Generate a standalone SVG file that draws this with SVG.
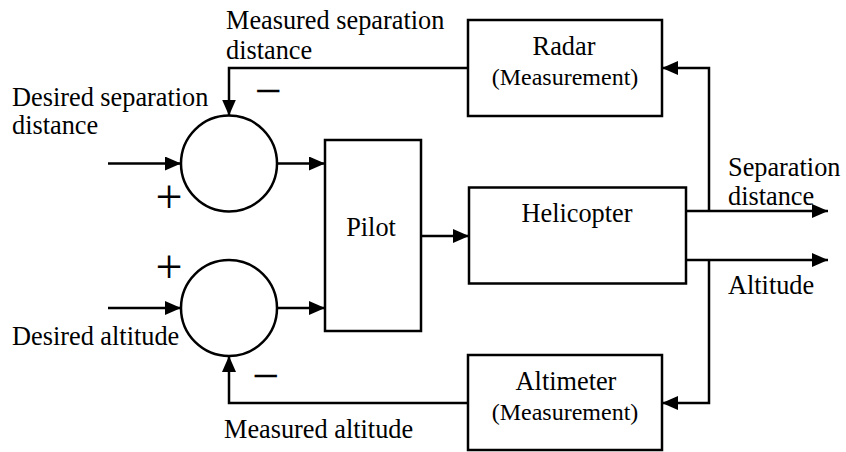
<svg xmlns="http://www.w3.org/2000/svg" width="846" height="452" viewBox="0 0 846 452" font-family="'Liberation Serif', 'Times New Roman', serif">
  <style>
    .box { fill: #ffffff; stroke: #000000; stroke-width: 2.5; }
    .sum { fill: #ffffff; stroke: #000000; stroke-width: 2.5; }
    .wire { fill: none; stroke: #000000; stroke-width: 2.5; }
    .arrow { marker-end: url(#head); }
    text { font-family: "Liberation Serif", "Times New Roman", serif; fill: #000000; }
    .lbl { font-size: 26.3px; }
    .sub { font-size: 24px; }
    .sign { font-size: 48px; text-anchor: middle; }
    .mid { text-anchor: middle; }
  </style>
  <defs>
    <marker id="head" markerUnits="userSpaceOnUse" markerWidth="16" markerHeight="14" refX="16" refY="7" orient="auto">
      <path d="M0,0 L16,7 L0,14 Z" fill="#000000"/>
    </marker>
  </defs>

  <!-- signal lines -->
  <g id="connectors">
    <path class="wire arrow" d="M108,163.5 H181"/>
    <path class="wire arrow" d="M108,308 H181"/>
    <path class="wire arrow" d="M277,163.5 H325"/>
    <path class="wire arrow" d="M277,308 H325"/>
    <path class="wire arrow" d="M421,236 H469"/>
    <path class="wire arrow" d="M686,211 H828"/>
    <path class="wire arrow" d="M686,260 H828"/>
    <path class="wire arrow" d="M709,211 V68 H662"/>
    <path class="wire arrow" d="M709,260 V403 H662"/>
    <path class="wire arrow" d="M468,68 H229 V115.5"/>
    <path class="wire arrow" d="M468,403 H229 V356"/>
  </g>

  <!-- summing junction, separation loop -->
  <g id="sum-separation">
    <circle class="sum" cx="229" cy="163.5" r="48"/>
    <text class="sign" x="169" y="212.5">+</text>
    <text class="sign" x="268" y="107">−</text>
  </g>

  <!-- summing junction, altitude loop -->
  <g id="sum-altitude">
    <circle class="sum" cx="229" cy="308" r="48"/>
    <text class="sign" x="169" y="283">+</text>
    <text class="sign" x="265.5" y="392">−</text>
  </g>

  <g id="pilot">
    <rect class="box" x="325" y="140" width="96" height="191"/>
    <text class="lbl mid" x="371" y="236">Pilot</text>
  </g>

  <g id="helicopter">
    <rect class="box" x="469" y="187.5" width="217" height="96"/>
    <text class="lbl mid" x="577" y="222">Helicopter</text>
  </g>

  <g id="radar">
    <rect class="box" x="468" y="20" width="194" height="96"/>
    <text class="lbl mid" x="564" y="55">Radar</text>
    <text class="sub mid" x="565" y="85">(Measurement)</text>
  </g>

  <g id="altimeter">
    <rect class="box" x="468" y="355" width="194" height="95"/>
    <text class="lbl mid" x="566" y="390">Altimeter</text>
    <text class="sub mid" x="565" y="420">(Measurement)</text>
  </g>

  <!-- signal labels -->
  <g id="labels">
    <text class="lbl" x="226" y="29">Measured separation</text>
    <text class="lbl" x="226" y="59">distance</text>
    <text class="lbl" x="12" y="106">Desired separation</text>
    <text class="lbl" x="12" y="134">distance</text>
    <text class="lbl" x="12" y="345">Desired altitude</text>
    <text class="lbl" x="224" y="438">Measured altitude</text>
    <text class="lbl" x="728" y="176">Separation</text>
    <text class="lbl" x="728" y="205">distance</text>
    <text class="lbl" x="728" y="294">Altitude</text>
  </g>
</svg>
